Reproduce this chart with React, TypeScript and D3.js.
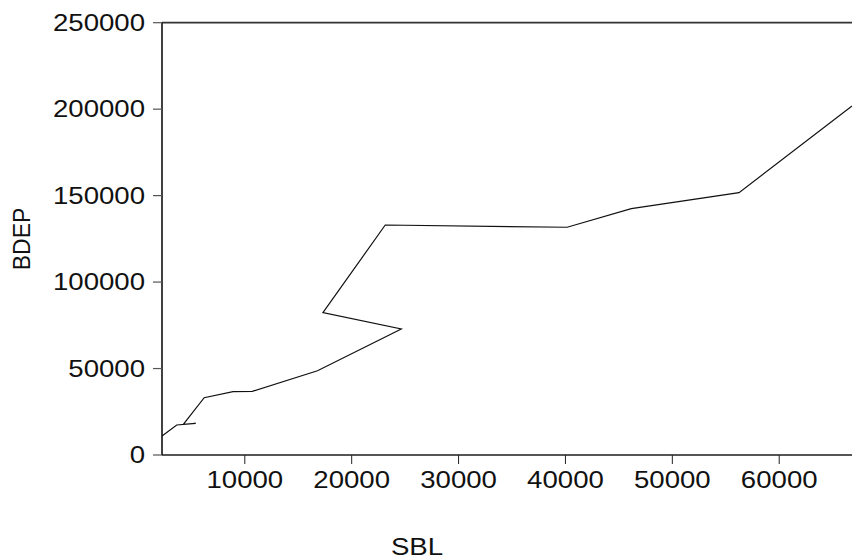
import React from 'react';
import * as d3 from 'd3';

// SBL (x) and BDEP (y) in plotted order
const sbl = [2253, 3630, 5410, 4250, 6200, 8900, 10700, 16800, 24640, 17310, 23140, 40160, 46160, 56240, 66810];
const bdep = [11000, 17350, 18330, 17750, 33140, 36600, 36800, 48750, 72870, 82300, 133000, 131700, 142450, 151700, 201800];

const xTicks = [10000, 20000, 30000, 40000, 50000, 60000];
const yTicks = [0, 50000, 100000, 150000, 200000, 250000];

const W = 852;
const H = 560;
const margin = { top: 22.7, right: 0, bottom: 105, left: 162 };
const FONT = '"Liberation Sans", Arial, Helvetica, sans-serif';
const STRETCH = 1.2;
const FS = 23;

const App: React.FC = () => {
  const x = d3.scaleLinear()
    .domain([d3.min(sbl)!, d3.max(sbl)!])
    .range([margin.left, W - margin.right]);
  const y = d3.scaleLinear()
    .domain([0, 250000])
    .range([H - margin.bottom, margin.top]);

  const pts: [number, number][] = sbl.map((d, i) => [d, bdep[i]]);
  const line = d3.line<[number, number]>()
    .x(d => x(d[0]))
    .y(d => y(d[1]));

  const x0 = margin.left;
  const x1 = W - margin.right;
  const yb = y(0);
  const yt = y(250000);

  return (
    <svg width={W} height={H} style={{ position: 'absolute', left: 0, top: 0, background: '#fff' }}
      fontFamily={FONT}>
      <rect x={0} y={0} width={W} height={H} fill="#fff" />

      {/* data line */}
      <path d={line(pts) || ''} fill="none" stroke="#111" strokeWidth={1.2} strokeLinejoin="miter" />

      {/* frame */}
      <line x1={x0} x2={x1} y1={yt} y2={yt} stroke="#333" strokeWidth={1.8} />
      <line x1={x0} x2={x1} y1={yb} y2={yb} stroke="#555" strokeWidth={1.8} />
      <line x1={x0} x2={x0} y1={yt} y2={yb} stroke="#111" strokeWidth={1.6} />

      {/* y axis */}
      {yTicks.map(t => (
        <g key={t}>
          <line x1={x0 - 9} x2={x0} y1={y(t)} y2={y(t)} stroke="#555" strokeWidth={1.2} />
          <text transform={`translate(${x0 - 17},${y(t) + 8}) scale(${STRETCH},1)`}
            textAnchor="end" fontSize={FS} fill="#111">{t}</text>
        </g>
      ))}

      {/* x axis */}
      {xTicks.map(t => (
        <g key={t}>
          <line x1={x(t)} x2={x(t)} y1={yb} y2={yb + 9} stroke="#222" strokeWidth={1} />
          <text transform={`translate(${x(t)},${yb + 33}) scale(${STRETCH},1)`}
            textAnchor="middle" fontSize={FS} fill="#111">{t}</text>
        </g>
      ))}

      {/* axis titles */}
      <text transform={`translate(417,555) scale(${STRETCH},1)`} textAnchor="middle" fontSize={FS} fill="#111">SBL</text>
      <text transform="translate(30,239) rotate(-90)" textAnchor="middle" fontSize={FS} fill="#111">BDEP</text>
    </svg>
  );
};

export default App;
